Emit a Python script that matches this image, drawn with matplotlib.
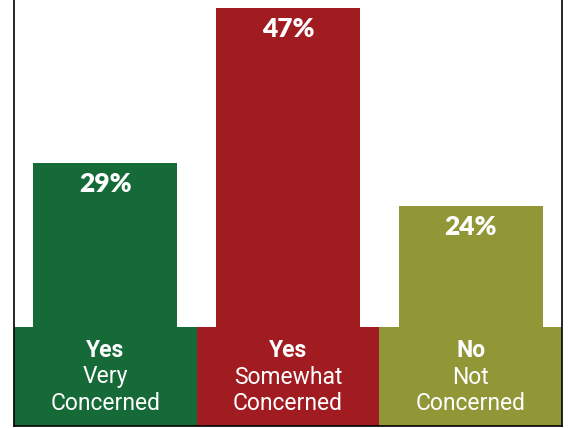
import matplotlib.pyplot as plt
from matplotlib.patches import Rectangle

answers = ["Yes", "Yes", "No"]
line1 = ["Very", "Somewhat", "Not"]
line2 = ["Concerned", "Concerned", "Concerned"]
shares = [29, 47, 24]
colors = ["#156a38", "#a11c21", "#919637"]

fig = plt.figure(figsize=(5.68, 4.28), dpi=100)
ax = fig.add_axes([14 / 568, 2 / 428, 548 / 568, 426 / 428])

x = [i + 0.5 for i in range(len(shares))]
ax.bar(x, shares, width=0.79, color=colors, zorder=2)
ax.set_xlim(0, 3)
ax.set_ylim(-1.63, 47.9)

# label band across the bottom
band_top = 99 / 426
for i, c in enumerate(colors):
    ax.add_patch(Rectangle((i / 3, 0), 1 / 3, band_top, transform=ax.transAxes,
                           color=c, zorder=3, lw=0))
    cx = (i + 0.5) / 3
    ax.text(cx, (426 - 357) / 426, answers[i], transform=ax.transAxes, ha="center",
            va="baseline", color="white", fontsize=16.5, fontweight="bold",
            family="Roboto", zorder=4)
    ax.text(cx, (426 - 383.5) / 426, line1[i], transform=ax.transAxes, ha="center",
            va="baseline", color="white", fontsize=16.5, family="Roboto", zorder=4)
    ax.text(cx, (426 - 410) / 426, line2[i], transform=ax.transAxes, ha="center",
            va="baseline", color="white", fontsize=16.5, family="Roboto", zorder=4)

for xi, v in zip(x, shares):
    ax.annotate(f"{v}%", (xi, v), xytext=(0, -29), textcoords="offset pixels",
                ha="center", va="baseline", color="white", fontsize=19,
                fontweight="heavy", family="Lato", zorder=4)

ax.set_xticks([])
ax.set_yticks([])
ax.spines["top"].set_visible(False)
for s in ["left", "right", "bottom"]:
    ax.spines[s].set_linewidth(1.2)
    ax.spines[s].set_zorder(5)

fig.savefig("out.png", dpi=100)
